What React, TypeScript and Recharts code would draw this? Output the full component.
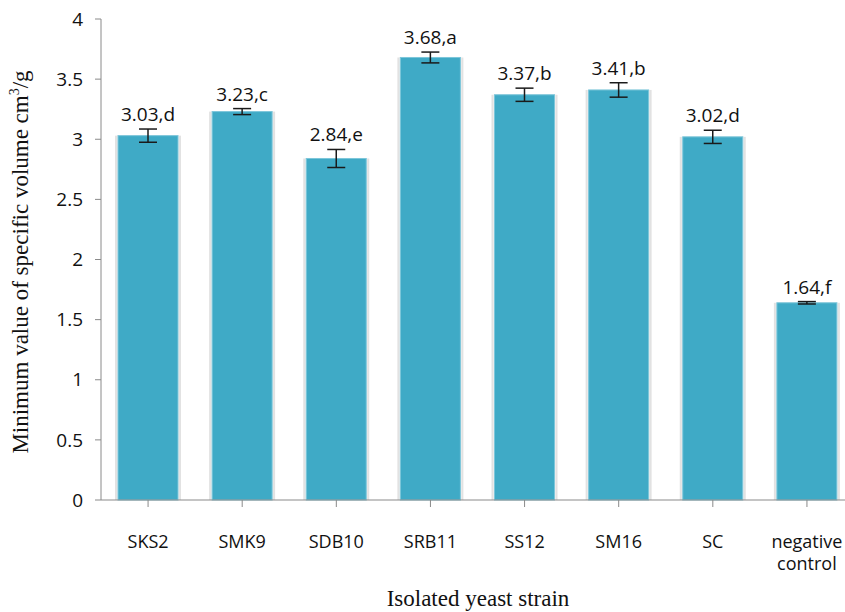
import { BarChart, Bar, XAxis, YAxis, ErrorBar, LabelList } from 'recharts';

const strains = ['SKS2', 'SMK9', 'SDB10', 'SRB11', 'SS12', 'SM16', 'SC', 'negative control'];
const volumes = [3.03, 3.23, 2.84, 3.68, 3.37, 3.41, 3.02, 1.64];
const errors = [0.055, 0.025, 0.075, 0.045, 0.055, 0.06, 0.055, 0.01];
const letters = ['d', 'c', 'e', 'a', 'b', 'b', 'd', 'f'];
const yTicks = [0, 0.5, 1, 1.5, 2, 2.5, 3, 3.5, 4];

const data = strains.map((s, i) => ({
  strain: s,
  value: volumes[i],
  err: errors[i],
  label: `${volumes[i].toFixed(2)},${letters[i]}`,
}));

const sans = '"Open Sans", sans-serif';
const serif = '"Liberation Serif", "Times New Roman", serif';

const BarShape = (props: any) => {
  const { x, y, width, height } = props;
  if (!height || height <= 0) return null;
  return (
    <g>
      <rect x={x - 3} y={y} width={width + 6} height={height} fill="#e2e2e2" />
      <rect x={x - 1} y={y} width={width + 2} height={height} fill="#f3f3f3" />
      <rect x={x} y={y} width={width} height={height} fill="#3faac6" stroke="#7cc6da" strokeWidth={1} />
    </g>
  );
};

const XTick = (props: any) => {
  const { x, y, payload } = props;
  const lines = String(payload.value).split(' ');
  return (
    <g>
      {lines.map((l, i) => (
        <text key={i} x={x} y={y + 39 + i * 22} textAnchor="middle" fontFamily={sans} fontSize={18} fill="#111">
          {l}
        </text>
      ))}
    </g>
  );
};

const TopLabel = (props: any) => {
  const { x, y, width, height, value, index } = props;
  const perUnit = height / volumes[index];
  const top = y - errors[index] * perUnit;
  return (
    <text x={x + width / 2} y={top - 8} textAnchor="middle" fontFamily={sans} fontSize={19} fill="#111">
      {value}
    </text>
  );
};

export default function App() {
  return (
    <div style={{ position: 'absolute', left: 0, top: 0, width: 845, height: 612, background: '#fff' }}>
      <BarChart
        width={845}
        height={612}
        data={data}
        margin={{ top: 19, right: -9, bottom: 52, left: 0 }}
        barSize={60}
      >
        <XAxis
          dataKey="strain"
          height={60}
          stroke="#8a8a8a"
          tickLine={{ stroke: '#8a8a8a' }}
          tickSize={7}
          interval={0}
          tick={<XTick />}
        />
        <YAxis
          width={101}
          domain={[0, 4]}
          ticks={yTicks}
          stroke="#8a8a8a"
          tickSize={6}
          tickMargin={12}
          tick={{ fontFamily: sans, fontSize: 19, fill: '#111' }}
        />
        <Bar dataKey="value" shape={<BarShape />} isAnimationActive={false}>
          <ErrorBar dataKey="err" width={9} stroke="#1a1a1a" strokeWidth={1.5} />
          <LabelList dataKey="label" content={<TopLabel />} />
        </Bar>
        <text
          transform="translate(28,262) rotate(-90)"
          textAnchor="middle"
          fontFamily={serif}
          fontSize={23}
          fill="#111"
        >
          Minimum value of specific volume cm
          <tspan dy={-9} fontSize={14}>3</tspan>
          <tspan dy={9}>/g</tspan>
        </text>
        <text x={478} y={606} textAnchor="middle" fontFamily={serif} fontSize={23} fill="#111">
          Isolated yeast strain
        </text>
      </BarChart>
    </div>
  );
}
